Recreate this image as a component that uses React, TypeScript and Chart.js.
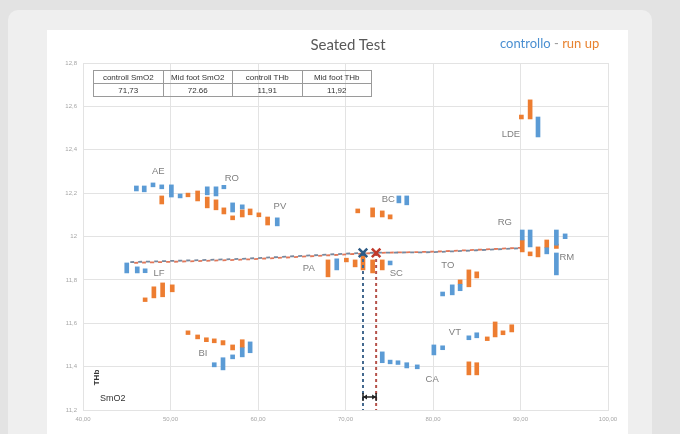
import React, { useEffect, useRef } from "react";
import { Chart, registerables } from "chart.js";
Chart.register(...registerables);

// ---- data (SmO2 on x, THb on y) ----
const blueX = [46.1, 47.0, 48.0, 49.0, 50.1, 51.1, 54.2, 55.2, 56.1, 57.1, 58.2, 62.2, 55.0, 56.0, 57.1, 58.2, 59.1, 45.0, 46.2, 47.1, 69.0, 75.1, 76.1, 77.0, 74.2, 75.1, 76.0, 77.0, 78.2, 80.1, 81.1, 84.1, 85.0, 81.1, 82.2, 83.1, 92.0, 90.2, 91.1, 93.0, 94.1, 94.1, 95.1];
const blueLow = [12.21, 12.206, 12.229, 12.22, 12.182, 12.178, 12.192, 12.187, 12.22, 12.113, 12.127, 12.049, 11.399, 11.385, 11.436, 11.445, 11.464, 11.832, 11.832, 11.833, 11.846, 11.869, 12.155, 12.146, 11.418, 11.413, 11.41, 11.394, 11.39, 11.454, 11.478, 11.524, 11.533, 11.726, 11.731, 11.75, 12.459, 11.984, 11.952, 11.92, 11.96, 11.823, 11.99];
const blueHigh = [12.233, 12.233, 12.247, 12.238, 12.238, 12.196, 12.229, 12.229, 12.236, 12.155, 12.146, 12.086, 11.418, 11.441, 11.454, 11.487, 11.514, 11.878, 11.86, 11.851, 11.897, 11.887, 12.187, 12.187, 11.468, 11.43, 11.427, 11.418, 11.408, 11.5, 11.496, 11.542, 11.556, 11.744, 11.777, 11.78, 12.551, 12.03, 12.03, 11.948, 12.03, 11.924, 12.012];

const orangeX = [49.0, 52.0, 53.1, 54.2, 55.2, 56.1, 57.1, 58.2, 59.1, 60.1, 61.1, 71.4, 73.1, 74.2, 75.1, 90.1, 91.1, 90.2, 91.1, 92.0, 93.0, 94.1, 68.0, 70.1, 71.1, 72.0, 73.1, 74.2, 47.1, 48.1, 49.1, 50.2, 52.0, 53.1, 54.1, 55.0, 56.0, 57.1, 58.2, 83.1, 84.1, 85.0, 86.2, 87.1, 88.0, 89.0, 84.1, 85.0];
const orangeLow = [12.15, 12.183, 12.164, 12.132, 12.123, 12.104, 12.077, 12.09, 12.1, 12.091, 12.053, 12.109, 12.09, 12.09, 12.081, 12.542, 12.542, 11.929, 11.911, 11.906, 11.948, 11.945, 11.814, 11.883, 11.86, 11.846, 11.832, 11.846, 11.7, 11.717, 11.722, 11.745, 11.548, 11.528, 11.515, 11.51, 11.5, 11.477, 11.487, 11.78, 11.768, 11.809, 11.52, 11.537, 11.547, 11.56, 11.362, 11.362];
const orangeHigh = [12.187, 12.2, 12.21, 12.182, 12.169, 12.132, 12.095, 12.123, 12.127, 12.109, 12.09, 12.127, 12.132, 12.118, 12.1, 12.56, 12.63, 11.984, 11.929, 11.952, 11.984, 11.965, 11.892, 11.9, 11.892, 11.924, 11.892, 11.892, 11.717, 11.768, 11.786, 11.777, 11.565, 11.546, 11.533, 11.528, 11.52, 11.5, 11.524, 11.8, 11.846, 11.837, 11.537, 11.606, 11.565, 11.593, 11.422, 11.418];

const groupLabels = ["AE", "RO", "PV", "BC", "LDE", "RG", "RM", "TO", "VT", "CA", "SC", "PA", "LF", "BI"];
const labelX = [48.6, 57.0, 62.5, 74.9, 88.9, 88.2, 95.3, 81.7, 82.5, 79.9, 75.8, 65.8, 48.7, 53.7];
const labelY = [12.302, 12.27, 12.141, 12.173, 12.473, 12.063, 11.906, 11.865, 11.556, 11.339, 11.828, 11.855, 11.832, 11.459];

const meanSmO2 = [72.0, 73.5]; // controllo, run up (as drawn)
const meanTHb = [11.924, 11.924];
const trendLeftX = [45.4, 58.0];
const trendLeftY = [11.882, 11.897];
const trendRightX = [80.0, 90.0];
const trendRightY = [11.93, 11.948];
const axisMinY = 11.2;
const arrowY = 11.26;
const sideDot = { x: 38.7, y: 11.934 };

const xTicks = [40, 50, 60, 70, 80, 90, 100];

const tableHead = ["controll SmO2", "Mid foot SmO2", "controll THb", "Mid foot THb"];
const tableVals = ["71,73", "72.66", "11,91", "11,92"];

const BLUE = "#5b9bd5";
const ORANGE = "#ed7d31";

const zip = (xs: number[], lo: number[], hi: number[]) =>
  xs.map((x, i) => ({ x, y: [lo[i], hi[i]] }));

export default function App() {
  const ref = useRef<HTMLCanvasElement | null>(null);

  useEffect(() => {
    if (!ref.current) return;

    const overlay = {
      id: "overlay",
      afterDatasetsDraw(chart: any) {
        const { ctx, scales } = chart;
        const xs = scales.x, ys = scales.y;
        ctx.save();
        ctx.fillStyle = "#7f7f7f";
        ctx.font = "9.5px 'Liberation Sans', sans-serif";
        ctx.textAlign = "center";
        ctx.textBaseline = "middle";
        groupLabels.forEach((t, i) => {
          ctx.fillText(t, xs.getPixelForValue(labelX[i]), ys.getPixelForValue(labelY[i]));
        });
        // double arrow between the two means
        const x1 = xs.getPixelForValue(meanSmO2[0]);
        const x2 = xs.getPixelForValue(meanSmO2[1]);
        const y = ys.getPixelForValue(arrowY);
        ctx.strokeStyle = "#222";
        ctx.fillStyle = "#222";
        ctx.lineWidth = 1.5;
        ctx.beginPath();
        ctx.moveTo(x1, y);
        ctx.lineTo(x2, y);
        ctx.stroke();
        [[x1, 1], [x2, -1]].forEach(([px, d]) => {
          ctx.beginPath();
          ctx.moveTo(px, y);
          ctx.lineTo(px + d * 4, y - 2.5);
          ctx.lineTo(px + d * 4, y + 2.5);
          ctx.closePath();
          ctx.fill();
          ctx.beginPath();
          ctx.moveTo(px, y - 4);
          ctx.lineTo(px, y + 4);
          ctx.stroke();
        });
        ctx.restore();
      },
    };

    const chart = new Chart(ref.current, {
      type: "bar",
      data: {
        datasets: [
          {
            type: "line",
            data: [...trendLeftX.map((x, i) => ({ x, y: trendLeftY[i] })), { x: meanSmO2[0], y: meanTHb[0] }, ...trendRightX.map((x, i) => ({ x, y: trendRightY[i] - 0.002 }))],
            borderColor: "rgba(95,115,140,0.85)",
            borderWidth: 1.8,
            borderDash: [4, 4],
            pointRadius: 0,
            tension: 0.2,
            order: 0,
          } as any,
          {
            type: "line",
            data: [...trendLeftX.map((x, i) => ({ x, y: trendLeftY[i] - 0.004 })), { x: meanSmO2[1], y: meanTHb[1] }, ...trendRightX.map((x, i) => ({ x, y: trendRightY[i] }))],
            borderColor: "rgba(220,95,60,0.85)",
            borderWidth: 1.8,
            borderDash: [4, 4],
            borderDashOffset: 4,
            pointRadius: 0,
            tension: 0.2,
            order: 0,
          } as any,
          {
            type: "line",
            data: [{ x: meanSmO2[0], y: meanTHb[0] }, { x: meanSmO2[0], y: axisMinY }],
            borderColor: "#44698f",
            borderWidth: 2,
            borderDash: [3, 3],
            pointRadius: 0,
            order: 0,
          } as any,
          {
            type: "line",
            data: [{ x: meanSmO2[1], y: meanTHb[1] }, { x: meanSmO2[1], y: axisMinY }],
            borderColor: "#b5524a",
            borderWidth: 2,
            borderDash: [3, 3],
            pointRadius: 0,
            order: 0,
          } as any,
          {
            type: "scatter",
            data: [{ x: meanSmO2[0], y: meanTHb[0] }],
            pointStyle: "crossRot",
            pointRadius: 6,
            borderWidth: 2.5,
            borderColor: "#2c5a85",
            order: -1,
          } as any,
          {
            type: "scatter",
            data: [{ x: meanSmO2[1], y: meanTHb[1] }],
            pointStyle: "crossRot",
            pointRadius: 6,
            borderWidth: 2.5,
            borderColor: "#c0392b",
            order: -1,
          } as any,
          {
            type: "scatter",
            data: [sideDot],
            pointRadius: 1.8,
            backgroundColor: "#2d3a7c",
            borderWidth: 0,
            clip: false,
            order: -1,
          } as any,
          {
            label: "run up",
            data: zip(orangeX, orangeLow, orangeHigh) as any,
            backgroundColor: ORANGE,
            barThickness: 4,
            grouped: false,
            order: 2,
          },
          {
            label: "controllo",
            data: zip(blueX, blueLow, blueHigh) as any,
            backgroundColor: BLUE,
            barThickness: 4,
            grouped: false,
            order: 1,
          },
        ],
      },
      options: {
        animation: false,
        responsive: false,
        events: [],
        layout: { padding: { top: 33, right: 20, left: 0, bottom: 0 } },
        plugins: { legend: { display: false }, tooltip: { enabled: false } },
        scales: {
          x: {
            type: "linear",
            min: 40,
            max: 100,
            offset: false,
            afterBuildTicks: (s: any) => {
              s.ticks = xTicks.map((v) => ({ value: v }));
            },
            afterFit: (s: any) => {
              s.height = 24;
            },
            ticks: {
              color: "#a6a6a6",
              font: { size: 6, family: "Liberation Sans" },
              padding: 6,
              callback: (v: any) => Number(v).toFixed(2).replace(".", ","),
            },
            grid: { color: "#e3e3e3", lineWidth: 1, drawTicks: false, offset: false },
            border: { color: "#e3e3e3" },
          },
          y: {
            type: "linear",
            min: 11.2,
            max: 12.8,
            afterFit: (s: any) => {
              s.width = 36;
            },
            ticks: {
              stepSize: 0.2,
              color: "#a6a6a6",
              font: { size: 6, family: "Liberation Sans" },
              padding: 6,
              callback: (v: any) => {
                const n = Math.round(Number(v) * 10) / 10;
                return Number.isInteger(n) ? String(n) : n.toFixed(1).replace(".", ",");
              },
            },
            grid: { color: "#e3e3e3", lineWidth: 1, drawTicks: false },
            border: { color: "#e3e3e3" },
          },
        },
      } as any,
      plugins: [overlay],
    });
    return () => chart.destroy();
  }, []);

  const cell: React.CSSProperties = {
    border: "1px solid #9a9a9a",
    padding: 0,
    height: 12,
    textAlign: "center",
    whiteSpace: "nowrap",
  };

  return (
    <div style={{ position: "fixed", inset: 0, background: "#e3e3e3", overflow: "hidden" }}>
      <div style={{ position: "absolute", left: 8, top: 10, width: 644, height: 460, background: "#efefef", borderRadius: 10 }} />
      <div style={{ position: "absolute", left: 47, top: 30, width: 581, height: 410, background: "#ffffff", fontFamily: "'Liberation Sans', sans-serif" }}>
        <canvas ref={ref} width={581} height={404} style={{ position: "absolute", left: 0, top: 0 }} />
        <div style={{ position: "absolute", left: 0, width: 602, top: 5, textAlign: "center", fontFamily: "Lato, sans-serif", fontSize: 15, color: "#595959" }}>
          Seated Test
        </div>
        <div style={{ position: "absolute", left: 453, top: 5, fontFamily: "Lato, sans-serif", fontSize: 13, whiteSpace: "nowrap" }}>
          <span style={{ color: "#4a8fd1" }}>controllo</span>
          <span style={{ color: "#999" }}> - </span>
          <span style={{ color: "#e8822f" }}>run up</span>
        </div>
        <table
          style={{
            position: "absolute",
            left: 46,
            top: 40,
            width: 279,
            borderCollapse: "collapse",
            fontSize: 8,
            color: "#333",
            tableLayout: "fixed",
            fontFamily: "'Liberation Sans', sans-serif",
          }}
        >
          <tbody>
            <tr>
              {tableHead.map((t) => (
                <td key={t} style={cell}>{t}</td>
              ))}
            </tr>
            <tr>
              {tableVals.map((t, i) => (
                <td key={i} style={cell}>{t}</td>
              ))}
            </tr>
          </tbody>
        </table>
        <div style={{ position: "absolute", left: 42, top: 343, transform: "rotate(-90deg)", fontSize: 8, color: "#333", fontWeight: "bold" }}>THb</div>
        <div style={{ position: "absolute", left: 53, top: 363, fontSize: 9, color: "#333" }}>SmO2</div>
      </div>
    </div>
  );
}
